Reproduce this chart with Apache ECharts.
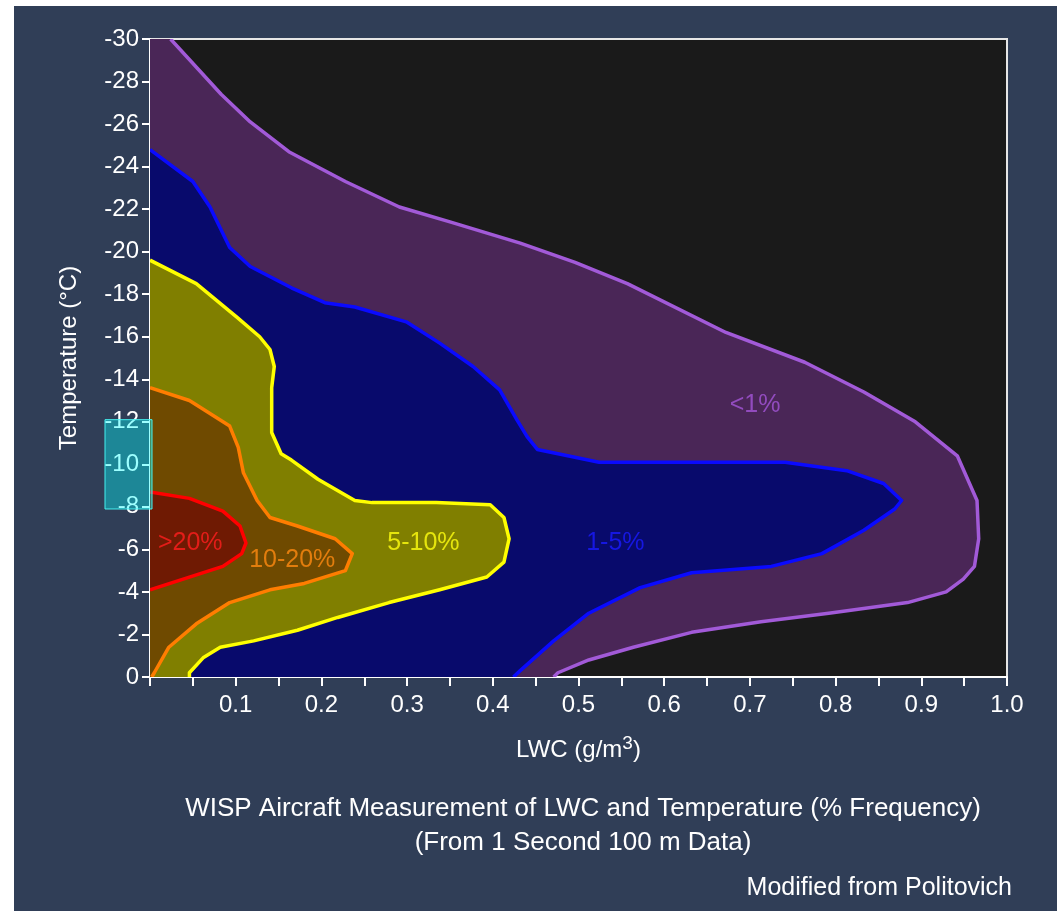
<!DOCTYPE html>
<html>
<head>
<meta charset="utf-8">
<title>WISP LWC vs Temperature</title>
<script src="https://cdn.jsdelivr.net/npm/echarts@6/dist/echarts.min.js"></script>
<style>
  html, body { margin: 0; padding: 0; background: #ffffff; }
  #chart { position: absolute; left: 14px; top: 6px; width: 1043px; height: 905px; }
</style>
</head>
<body>
<div id="chart"></div>
<script>
// contour outlines, [LWC g/m3, temperature C]
const lessThan1 = [
  [0.024, -30], [0.083, -27.4], [0.117, -26.1], [0.162, -24.7], [0.228, -23.3],
  [0.291, -22.1], [0.350, -21.4], [0.432, -20.4], [0.496, -19.5], [0.557, -18.5],
  [0.672, -16.2], [0.764, -14.8], [0.833, -13.4], [0.893, -12.0], [0.942, -10.4],
  [0.965, -8.3], [0.967, -6.5], [0.962, -5.2], [0.949, -4.6], [0.929, -4.0],
  [0.884, -3.5], [0.792, -3.0], [0.713, -2.6], [0.632, -2.1], [0.564, -1.4],
  [0.512, -0.8], [0.476, -0.2], [0.471, 0]
]
const oneToFive = [
  [0, -24.8], [0.050, -23.3], [0.070, -22.1], [0.093, -20.2], [0.117, -19.3],
  [0.165, -18.3], [0.204, -17.6], [0.239, -17.4], [0.299, -16.7], [0.338, -15.7],
  [0.377, -14.6], [0.408, -13.5], [0.428, -12.1], [0.440, -11.3], [0.452, -10.7],
  [0.524, -10.1], [0.741, -10.1], [0.813, -9.7], [0.856, -9.1], [0.877, -8.3],
  [0.869, -7.9], [0.833, -6.9], [0.784, -5.8], [0.725, -5.2], [0.632, -4.9],
  [0.572, -4.2], [0.512, -3.0], [0.471, -1.7], [0.432, -0.3], [0.424, 0]
]
const fiveToTen = [
  [0, -19.6], [0.054, -18.5], [0.102, -16.9], [0.128, -16.0], [0.140, -15.4],
  [0.145, -14.6], [0.142, -13.6], [0.142, -11.5], [0.153, -10.5], [0.165, -10.2],
  [0.196, -9.3], [0.239, -8.3], [0.259, -8.2], [0.334, -8.2], [0.397, -8.1],
  [0.413, -7.5], [0.419, -6.5], [0.413, -5.4], [0.393, -4.7], [0.338, -4.1],
  [0.279, -3.5], [0.219, -2.8], [0.172, -2.2], [0.121, -1.7], [0.082, -1.4],
  [0.062, -0.9], [0.046, -0.2], [0.046, 0]
]
const tenToTwenty = [
  [0, -13.6], [0.046, -13.0], [0.093, -11.8], [0.103, -10.8], [0.109, -9.6],
  [0.125, -8.3], [0.140, -7.5], [0.172, -7.1], [0.216, -6.5], [0.236, -5.8],
  [0.228, -5.0], [0.180, -4.4], [0.140, -4.1], [0.093, -3.5], [0.054, -2.5],
  [0.022, -1.4], [0.005, -0.2], [0.002, 0]
]
const overTwenty = [
  [0, -8.7], [0.046, -8.4], [0.085, -7.8], [0.105, -7.1], [0.112, -6.3],
  [0.107, -5.8], [0.085, -5.2], [0.046, -4.7], [0, -4.1]
]

const regionNames = ['>20%', '10-20%', '5-10%', '1-5%', '<1%']
const regionLabelPos = [[0.047, -6.3], [0.166, -5.5], [0.319, -6.3], [0.543, -6.3], [0.706, -12.8]]

const xTicks = [0.1, 0.2, 0.3, 0.4, 0.5, 0.6, 0.7, 0.8, 0.9, 1.0]
const yTicks = [-30, -28, -26, -24, -22, -20, -18, -16, -14, -12, -10, -8, -6, -4, -2, 0]

const FONT = "'Liberation Sans', Arial, sans-serif"

// filled band bounded by the axes; only the curve itself gets the outline
function band (name, curve, corners, fill, stroke) {
  return {
    type: 'custom',
    name: name,
    silent: true,
    clip: true,
    data: curve,
    renderItem: function (params, api) {
      if (params.dataIndex !== 0) return
      const line = curve.map(p => api.coord(p))
      const poly = line.concat(corners.map(p => api.coord(p)))
      return {
        type: 'group',
        children: [
          { type: 'polygon', shape: { points: poly }, style: { fill: fill } },
          { type: 'polyline', shape: { points: line }, style: { stroke: stroke, lineWidth: 3.5, fill: null, lineJoin: 'round' } }
        ]
      }
    }
  }
}

const labelColors = ['#ff1e1e', '#ff8a10', '#ffff10', '#1a1aff', '#a455d8']

const chart = echarts.init(document.getElementById('chart'))
chart.setOption({
  backgroundColor: '#303e57',
  animation: false,
  grid: {
    left: 136,
    top: 33,
    right: 50,
    bottom: 234,
    show: true,
    backgroundColor: '#1a1a1a',
    borderColor: '#e6e6e6',
    borderWidth: 2
  },
  xAxis: {
    type: 'value',
    min: 0,
    max: 1,
    interval: 0.1,
    name: 'LWC (g/m{sup|3})',
    nameLocation: 'middle',
    nameGap: 57,
    nameTextStyle: {
      color: '#ffffff',
      fontFamily: FONT,
      fontSize: 24,
      rich: {
        sup: { color: '#ffffff', fontFamily: FONT, fontSize: 19, padding: [0, 0, 14, 0] }
      }
    },
    axisLine: { show: true, lineStyle: { color: '#ffffff', width: 2 } },
    axisTick: { show: true, length: 9, lineStyle: { color: '#ffffff', width: 2 } },
    minorTick: { show: true, splitNumber: 2, length: 9, lineStyle: { color: '#ffffff', width: 2 } },
    splitLine: { show: false },
    axisLabel: {
      color: '#ffffff',
      fontFamily: FONT,
      fontSize: 24,
      margin: 16,
      formatter: v => (xTicks.some(t => Math.abs(t - v) < 1e-6) ? v.toFixed(1) : '')
    }
  },
  yAxis: {
    type: 'value',
    min: -30,
    max: 0,
    interval: 2,
    inverse: true,
    name: 'Temperature (°C)',
    nameLocation: 'middle',
    nameGap: 69,
    nameTextStyle: { color: '#ffffff', fontFamily: FONT, fontSize: 24 },
    axisLine: { show: true, lineStyle: { color: '#ffffff', width: 2 } },
    axisTick: { show: true, length: 8, lineStyle: { color: '#ffffff', width: 2 } },
    splitLine: { show: false },
    axisLabel: {
      color: '#ffffff',
      fontFamily: FONT,
      fontSize: 24,
      margin: 11,
      formatter: v => (yTicks.indexOf(v) >= 0 ? String(v) : '')
    }
  },
  series: [
    band('<1%', lessThan1, [[0, 0], [0, -30]], '#4a2657', '#a25ad8'),
    band('1-5%', oneToFive, [[0, 0]], '#080a6c', '#0a0aff'),
    band('5-10%', fiveToTen, [[0, 0]], '#807f00', '#ffff00'),
    band('10-20%', tenToTwenty, [[0, 0]], '#6f4a00', '#ff7d00'),
    band('>20%', overTwenty, [[0, 0]], '#6f1a03', '#ff0000'),
    {
      type: 'scatter',
      name: 'labels',
      silent: true,
      symbolSize: 0,
      z: 5,
      data: regionNames.map((n, i) => ({
        name: n,
        value: regionLabelPos[i],
        label: { color: labelColors[i] }
      })),
      label: {
        show: true,
        position: 'inside',
        formatter: p => p.name,
        fontFamily: FONT,
        fontSize: 25
      }
    }
  ]
})

// the cyan highlight over the -8 .. -12 labels, and the caption text
const yTop = chart.convertToPixel({ yAxisIndex: 0 }, -12.1)
const yBottom = chart.convertToPixel({ yAxisIndex: 0 }, -7.9)
chart.setOption({
  graphic: [
    {
      type: 'rect',
      z: 100,
      silent: true,
      shape: { x: 91, y: yTop, width: 47, height: yBottom - yTop },
      style: { fill: 'rgba(0, 255, 255, 0.38)', stroke: '#45f2f2', lineWidth: 1 }
    },
    {
      type: 'text',
      x: 569,
      y: 803,
      style: {
        text: 'WISP Aircraft Measurement of LWC and Temperature (% Frequency)',
        fill: '#ffffff',
        font: '26px ' + FONT,
        textAlign: 'center',
        textVerticalAlign: 'middle'
      }
    },
    {
      type: 'text',
      x: 569,
      y: 837,
      style: {
        text: '(From 1 Second 100 m Data)',
        fill: '#ffffff',
        font: '26px ' + FONT,
        textAlign: 'center',
        textVerticalAlign: 'middle'
      }
    },
    {
      type: 'text',
      x: 998,
      y: 882,
      style: {
        text: 'Modified from Politovich',
        fill: '#ffffff',
        font: '25px ' + FONT,
        textAlign: 'right',
        textVerticalAlign: 'middle'
      }
    }
  ]
})
</script>
</body>
</html>
